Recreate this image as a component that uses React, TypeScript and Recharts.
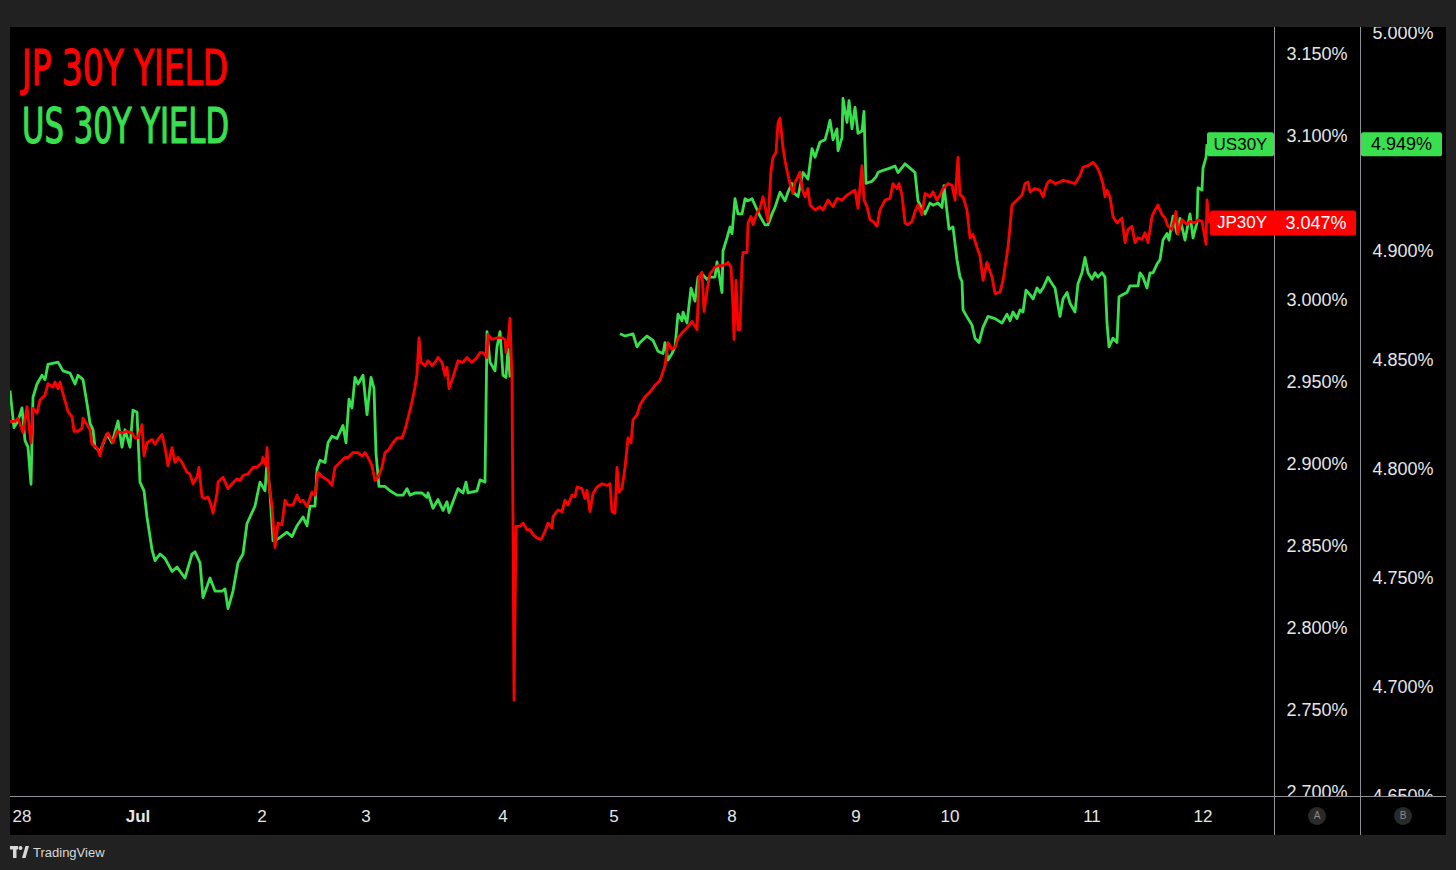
import React from 'react';
import { LineChart, Line, XAxis, YAxis, ReferenceLine } from 'recharts';

// ---- data (time in session units, yields in %) ----
const usTime = [
  0, 2, 4, 6, 7.5, 9, 10.5, 11.5, 13.5, 16, 17.5, 19, 24, 26.5, 30, 32.5, 34, 36.5, 38.5, 40,
  41.5, 42.5, 45, 48.5, 51, 52.5, 54, 56, 57.5, 60, 61.5, 63.5, 65, 67, 68.5, 71, 72.5, 75, 77.5, 81,
  83.5, 87.5, 91, 92.5, 95, 96.5, 100, 102.5, 106, 107.5, 109, 111.5, 114, 116.5, 118.5, 122.5, 125, 127.5, 128.5, 130,
  131.5, 134, 138.5, 141, 143.5, 146.5, 148.5, 150, 152.5, 153.5, 155, 157.5, 159, 161, 163.5, 165, 166.5, 168, 169.5, 171,
  172.5, 174, 176.5, 178.5, 180.5, 182, 183, 184.5, 187.5, 190, 193.5, 196.5, 198.5, 200, 202.5, 206, 208.5, 209, 211.5, 214,
  216.5, 218.5, 219.5, 221.5, 224, 226.5, 228, 229, 233.5, 235, 237.5, 238.5, 240, 242.5, 243.5, 245, 246.5, 248, 249, 250,
  275,
  305, 307.5, 311.5, 313.5, 315, 318.5, 321.5, 324, 326.5, 327.5, 329, 331, 332.5, 334, 336, 336.5, 338.5, 340.5, 342.5, 344,
  346.5, 348.5, 350, 352.5, 353.5, 356, 356.5, 358.5, 360, 361, 361.5, 362.5, 364, 366, 367.5, 369, 371, 372.5, 375, 377.5,
  379, 381, 382.5, 385, 387.5, 389, 391, 391.5, 394, 396.5, 399, 401, 402.5, 405, 407.5, 409, 410, 411.5, 413.5, 414,
  416, 416.5, 418.5, 419.5, 421, 422.5, 424, 426, 427, 428, 431, 433, 434, 436.5, 440, 442.5, 444, 447.5, 450, 452.5,
  454, 457.5, 460, 461.5, 464, 466, 467, 468.5, 469.5, 471.5, 473.5, 475, 476, 476.5, 479, 481, 482.5, 484.5, 486.5, 489,
  492.5, 496, 498.5, 500, 501.5, 503.5, 505, 506.5, 508, 510, 511.5, 513.5, 515, 516.5, 519, 521, 522.5, 524, 525, 526.5,
  528.5, 530, 532.5, 534, 536, 537.5, 539, 541, 542.5, 544, 546, 547.5, 548.5, 549.5, 551.5, 553.5, 554.5, 556.5, 558.5, 560,
  564, 565, 566.5, 568.5, 570, 571.5, 573.5, 575, 576.5, 578.5, 579.5, 581.5, 583.5, 585, 587.5, 590, 591.5, 593.5, 594, 596,
  596.5, 598, 598.5,
];
const usYield: (number | null)[] = [
  4.836, 4.819, 4.822, 4.828, 4.813, 4.810, 4.793, 4.833, 4.839, 4.843, 4.841, 4.848, 4.849, 4.845, 4.844, 4.839, 4.843, 4.841, 4.830, 4.821,
  4.818, 4.810, 4.808, 4.816, 4.812, 4.817, 4.822, 4.810, 4.818, 4.810, 4.827, 4.826, 4.794, 4.790, 4.778, 4.763, 4.758, 4.761, 4.759, 4.753,
  4.755, 4.750, 4.761, 4.762, 4.757, 4.741, 4.750, 4.744, 4.744, 4.745, 4.736, 4.744, 4.757, 4.761, 4.775, 4.783, 4.794, 4.790, 4.803, 4.789,
  4.767, 4.768, 4.771, 4.769, 4.774, 4.778, 4.774, 4.783, 4.783, 4.800, 4.804, 4.803, 4.812, 4.815, 4.814, 4.817, 4.820, 4.812, 4.832, 4.828,
  4.842, 4.839, 4.843, 4.825, 4.842, 4.837, 4.807, 4.792, 4.792, 4.790, 4.788, 4.788, 4.791, 4.788, 4.789, 4.789, 4.787, 4.789, 4.782, 4.786,
  4.781, 4.785, 4.780, 4.785, 4.791, 4.789, 4.794, 4.789, 4.790, 4.795, 4.794, 4.863, 4.849, 4.845, 4.856, 4.863, 4.843, 4.842, 4.855, 4.842,
  null,
  4.862, 4.861, 4.862, 4.856, 4.858, 4.861, 4.859, 4.854, 4.853, 4.858, 4.850, 4.853, 4.856, 4.871, 4.868, 4.872, 4.867, 4.883, 4.877, 4.888,
  4.889, 4.887, 4.888, 4.888, 4.895, 4.881, 4.900, 4.906, 4.911, 4.908, 4.913, 4.924, 4.917, 4.917, 4.924, 4.923, 4.924, 4.921, 4.916, 4.912,
  4.912, 4.917, 4.920, 4.927, 4.923, 4.927, 4.931, 4.927, 4.925, 4.936, 4.933, 4.947, 4.943, 4.950, 4.951, 4.956, 4.960, 4.951, 4.956, 4.946,
  4.952, 4.970, 4.959, 4.969, 4.956, 4.966, 4.954, 4.955, 4.964, 4.931, 4.932, 4.934, 4.936, 4.937, 4.938, 4.939, 4.936, 4.940, 4.938, 4.936,
  4.923, 4.917, 4.922, 4.921, 4.922, 4.920, 4.930, 4.918, 4.910, 4.911, 4.896, 4.888, 4.886, 4.873, 4.869, 4.866, 4.860, 4.858, 4.865, 4.870,
  4.869, 4.867, 4.871, 4.868, 4.872, 4.869, 4.873, 4.872, 4.882, 4.880, 4.878, 4.883, 4.881, 4.883, 4.888, 4.885, 4.883, 4.875, 4.870, 4.878,
  4.881, 4.876, 4.872, 4.885, 4.890, 4.897, 4.890, 4.887, 4.890, 4.888, 4.890, 4.888, 4.867, 4.856, 4.860, 4.858, 4.879, 4.880, 4.881, 4.884,
  4.884, 4.890, 4.888, 4.883, 4.890, 4.890, 4.894, 4.896, 4.905, 4.908, 4.905, 4.916, 4.908, 4.915, 4.905, 4.917, 4.906, 4.913, 4.929, 4.928,
  4.938, 4.943, 4.949,
];

const jpTime = [
  0, 2.5, 4, 6.5, 8.5, 10.5, 11.5, 13.5, 15, 17.5, 19, 21.5, 22.5, 24, 25, 26.5, 29, 31, 32, 34,
  36, 36.5, 38.5, 40, 41, 43.5, 45, 46.5, 49, 51.5, 53.5, 56, 58.5, 61, 62.5, 64, 66, 67, 68.5, 71,
  72.5, 74, 76, 77.5, 79, 81, 82.5, 84, 86, 88.5, 90, 91.5, 93.5, 94.5, 96, 97.5, 99, 100.5, 101.5, 103.5,
  104, 106.5, 109, 111, 113.5, 115, 116.5, 119, 121.5, 123.5, 126, 126.5, 128, 128.5, 129.5, 131, 132.5, 134, 136, 137.5,
  139, 141.5, 143.5, 145, 146.5, 148.5, 151, 152.5, 154, 156.5, 159, 161, 162.5, 165, 167.5, 169, 171.5, 174, 176, 177.5,
  179, 181, 182.5, 184, 186, 187.5, 189.5, 191.5, 193.5, 196, 197.5, 199, 201, 202.5, 203.5, 204.5, 205.5, 207.5, 209, 211,
  212.5, 214, 216, 217.5, 218.5, 219.5, 221.5, 224, 226.5, 228.5, 231, 233.5, 235, 236.5, 238.5, 239, 241, 243.5, 246, 247.5,
  248, 249, 250, 251, 251.5, 252, 253, 255, 256.5, 258.5, 260, 261.5, 263.5, 265.5, 267.5, 269, 271, 271.5, 274, 276,
  277.5, 279, 281, 282.5, 283.5, 286, 287.5, 288.5, 290, 291.5, 293.5, 296, 298.5, 300, 301, 302.5, 303.5, 304.5, 306, 307.5,
  309, 310.5, 311.5, 313.5, 315, 317.5, 320, 322.5, 325, 327.5, 329, 331, 332.5, 334, 336, 338.5, 341, 343.5, 344.5, 346,
  347, 348.5, 350, 352.5, 354, 356.5, 359, 360.5, 361.5, 362, 363, 364, 365, 366, 366.5, 368.5, 369, 370.5, 371.5, 373.5,
  375, 376.5, 377.5, 379, 380.5, 381.5, 383, 384, 385, 386.5, 387.5, 388.5, 390, 391.5, 392.5, 393.5, 395, 396, 397.5, 399,
  400, 402.5, 405, 406.5, 409, 411.5, 413.5, 416, 418.5, 421, 422.5, 424, 426, 427, 428.5, 430, 431.5, 433.5, 435, 437.5,
  440, 441.5, 443.5, 444.5, 446, 447.5, 449, 451, 452.5, 454, 456, 457.5, 460, 461.5, 463.5, 465, 466.5, 469, 471, 472.5,
  474, 475, 476.5, 478.5, 480, 481.5, 483.5, 485, 486.5, 488.5, 491, 492.5, 495, 496.5, 499, 501, 503.5, 506, 507.5, 509,
  510, 512.5, 515, 516.5, 518.5, 520, 522.5, 525, 526.5, 530, 532.5, 535, 536.5, 539, 541.5, 543.5, 545, 546.5, 547.5, 548.5,
  550, 551.5, 553.5, 556, 557.5, 559, 561, 562.5, 564, 566, 567.5, 569, 571, 572.5, 574, 576, 577.5, 579, 581, 583,
  584, 586, 588.5, 590, 592.5, 594, 596, 598, 598.5, 599.5,
];
const jpYield = [
  2.926, 2.926, 2.928, 2.919, 2.935, 2.913, 2.934, 2.931, 2.939, 2.942, 2.949, 2.947, 2.950, 2.946, 2.950, 2.943, 2.932, 2.929, 2.920, 2.920,
  2.922, 2.928, 2.924, 2.921, 2.912, 2.910, 2.905, 2.913, 2.919, 2.913, 2.920, 2.919, 2.920, 2.919, 2.916, 2.916, 2.924, 2.905, 2.913, 2.915,
  2.912, 2.915, 2.918, 2.910, 2.899, 2.910, 2.901, 2.904, 2.901, 2.895, 2.894, 2.888, 2.892, 2.898, 2.880, 2.879, 2.880, 2.875, 2.870, 2.882,
  2.889, 2.892, 2.885, 2.888, 2.891, 2.890, 2.893, 2.894, 2.898, 2.898, 2.901, 2.904, 2.899, 2.910, 2.888, 2.874, 2.849, 2.864, 2.863, 2.878,
  2.875, 2.875, 2.881, 2.877, 2.878, 2.874, 2.883, 2.881, 2.895, 2.892, 2.890, 2.887, 2.898, 2.901, 2.904, 2.904, 2.907, 2.907, 2.905, 2.907,
  2.904, 2.899, 2.890, 2.892, 2.898, 2.907, 2.909, 2.913, 2.916, 2.916, 2.921, 2.928, 2.938, 2.947, 2.955, 2.977, 2.962, 2.960, 2.963, 2.960,
  2.962, 2.965, 2.962, 2.954, 2.959, 2.946, 2.953, 2.963, 2.962, 2.965, 2.962, 2.965, 2.968, 2.968, 2.965, 2.979, 2.976, 2.977, 2.977, 2.976,
  2.968, 2.974, 2.989, 2.951, 2.862, 2.756, 2.862, 2.862, 2.864, 2.860, 2.860, 2.857, 2.855, 2.854, 2.859, 2.864, 2.861, 2.868, 2.872, 2.871,
  2.878, 2.875, 2.881, 2.880, 2.886, 2.885, 2.879, 2.884, 2.871, 2.882, 2.886, 2.888, 2.887, 2.888, 2.871, 2.870, 2.898, 2.883, 2.885, 2.898,
  2.916, 2.913, 2.927, 2.930, 2.936, 2.941, 2.944, 2.948, 2.951, 2.960, 2.974, 2.970, 2.971, 2.977, 2.980, 2.983, 2.987, 2.982, 3.014, 3.017,
  2.993, 3.006, 3.016, 3.020, 3.021, 3.021, 3.023, 3.020, 2.996, 2.976, 3.012, 2.982, 2.982, 3.023, 3.029, 3.029, 3.047, 3.051, 3.046, 3.053,
  3.056, 3.063, 3.057, 3.048, 3.079, 3.087, 3.090, 3.108, 3.111, 3.093, 3.085, 3.079, 3.071, 3.065, 3.072, 3.074, 3.078, 3.068, 3.063, 3.068,
  3.058, 3.055, 3.057, 3.055, 3.061, 3.057, 3.062, 3.061, 3.064, 3.066, 3.067, 3.056, 3.082, 3.061, 3.057, 3.049, 3.048, 3.045, 3.055, 3.061,
  3.062, 3.071, 3.068, 3.071, 3.064, 3.047, 3.046, 3.048, 3.054, 3.058, 3.052, 3.065, 3.063, 3.066, 3.061, 3.064, 3.068, 3.071, 3.070, 3.061,
  3.087, 3.064, 3.063, 3.055, 3.038, 3.040, 3.032, 3.027, 3.012, 3.023, 3.014, 3.004, 3.005, 3.012, 3.032, 3.058, 3.061, 3.064, 3.071, 3.072,
  3.066, 3.068, 3.067, 3.063, 3.071, 3.073, 3.071, 3.072, 3.073, 3.072, 3.071, 3.076, 3.081, 3.082, 3.084, 3.081, 3.077, 3.071, 3.063, 3.067,
  3.063, 3.051, 3.047, 3.050, 3.035, 3.043, 3.045, 3.035, 3.038, 3.037, 3.041, 3.035, 3.051, 3.055, 3.058, 3.052, 3.050, 3.045, 3.043, 3.054,
  3.040, 3.049, 3.046, 3.048, 3.047, 3.049, 3.048, 3.034, 3.061, 3.047,
];

const dayTickPos = [6, 64, 126, 178, 246.5, 302, 361, 423, 470, 541, 596.5];
const dayTickLabels = ['28', 'Jul', '2', '3', '4', '5', '8', '9', '10', '11', '12'];
const jpAxisTicks = [2.7, 2.75, 2.8, 2.85, 2.9, 2.95, 3.0, 3.1, 3.15];
const usAxisTicks = [4.65, 4.7, 4.75, 4.8, 4.85, 4.9, 5.0];
const jpLast = 3.047;
const usLast = 4.949;
const titleJP = 'JP 30Y YIELD';
const titleUS = 'US 30Y YIELD';

const usData = usTime.map((t, i) => ({ t, v: usYield[i] }));
const jpData = jpTime.map((t, i) => ({ t, v: jpYield[i] }));

const RED = '#ff0000';
const GREEN = '#39e04e';
const TXT = '#e6e6e6';
const FONT = '"Liberation Sans", Arial, sans-serif';
const TITLE_FONT = '"DejaVu Sans Condensed", "Liberation Sans Narrow", sans-serif';
const LINE_COL = '#8f9196';

const YTick = (props: any) => {
  const { x, y, payload, index, cid } = props;
  const id = `${cid}-${index}`;
  return (
    <g>
      <defs>
        <clipPath id={id}>
          <rect x={x} y={0} width={86} height={769} />
        </clipPath>
      </defs>
      <text
        x={x + 43}
        y={y}
        textAnchor="middle"
        dominantBaseline="central"
        fill={TXT}
        fontSize={18}
        fontFamily={FONT}
        clipPath={`url(#${id})`}
      >
        {Number(payload.value).toFixed(3)}%
      </text>
    </g>
  );
};

const XTick = (props: any) => {
  const { x, y, payload } = props;
  const i = dayTickPos.indexOf(payload.value);
  const label = dayTickLabels[i] ?? '';
  return (
    <text
      x={x}
      y={y + 20}
      textAnchor="middle"
      dominantBaseline="central"
      fill={TXT}
      fontSize={17}
      fontFamily={FONT}
      fontWeight={label === 'Jul' ? 700 : 400}
    >
      {label}
    </text>
  );
};

const USTag = (props: any) => {
  const vb = props.viewBox || {};
  const right = vb.x + vb.width;
  const cy = vb.y;
  return (
    <g>
      <rect x={right - 67} y={cy - 12} width={67} height={24} rx={2} fill={GREEN} />
      <text x={right - 33.5} y={cy} textAnchor="middle" dominantBaseline="central" fill="#000" fontSize={17} fontFamily={FONT}>
        US30Y
      </text>
      <rect x={right + 87} y={cy - 12} width={81} height={24} rx={2} fill={GREEN} />
      <text x={right + 127.5} y={cy} textAnchor="middle" dominantBaseline="central" fill="#000" fontSize={18} fontFamily={FONT}>
        {usLast.toFixed(3)}%
      </text>
    </g>
  );
};

const JPTag = (props: any) => {
  const vb = props.viewBox || {};
  const right = vb.x + vb.width;
  const cy = vb.y;
  return (
    <g>
      <rect x={right - 64} y={cy - 12.5} width={146} height={25} rx={2} fill={RED} />
      <text x={right - 32} y={cy} textAnchor="middle" dominantBaseline="central" fill="#fff" fontSize={17} fontFamily={FONT}>
        JP30Y
      </text>
      <text x={right + 42} y={cy} textAnchor="middle" dominantBaseline="central" fill="#fff" fontSize={18} fontFamily={FONT}>
        {jpLast.toFixed(3)}%
      </text>
    </g>
  );
};

export default function App() {
  return (
    <div style={{ position: 'fixed', left: 0, top: 0, width: 1456, height: 870, background: '#212121', overflow: 'hidden' }}>
      <div style={{ position: 'absolute', left: 10, top: 27, width: 1436, height: 808, background: '#000' }}>
        {/* frame separators */}
        <div style={{ position: 'absolute', left: 1264, top: 0, width: 1, height: 808, background: LINE_COL }} />
        <div style={{ position: 'absolute', left: 1350, top: 0, width: 1, height: 808, background: LINE_COL }} />
        <div style={{ position: 'absolute', left: 0, top: 769, width: 1436, height: 1, background: LINE_COL }} />
        {/* A / B badges */}
        <div style={{ position: 'absolute', left: 1298, top: 780, width: 18, height: 18, borderRadius: 9, background: '#2a2a2a', color: '#8a8a8a', fontSize: 10, fontFamily: FONT, textAlign: 'center', lineHeight: '18px' }}>A</div>
        <div style={{ position: 'absolute', left: 1384, top: 780, width: 18, height: 18, borderRadius: 9, background: '#2a2a2a', color: '#8a8a8a', fontSize: 10, fontFamily: FONT, textAlign: 'center', lineHeight: '18px' }}>B</div>
        <div style={{ position: 'absolute', left: 0, top: 0 }}>
          <LineChart width={1436} height={808} margin={{ top: 0, right: 0, bottom: 0, left: 0 }}>
            <XAxis
              dataKey="t"
              type="number"
              domain={[0, 632]}
              allowDataOverflow
              ticks={dayTickPos}
              interval={0}
              tick={<XTick />}
              tickLine={false}
              axisLine={false}
              tickSize={0}
              tickMargin={0}
              height={39}
            />
            <YAxis
              yAxisId="A"
              orientation="right"
              type="number"
              domain={[2.6976, 3.1665]}
              allowDataOverflow
              ticks={jpAxisTicks}
              interval={0}
              tick={(p: any) => <YTick {...p} cid="ya" />}
              tickLine={false}
              axisLine={false}
              tickSize={0}
              tickMargin={0}
              width={86}
            />
            <YAxis
              yAxisId="B"
              orientation="right"
              type="number"
              domain={[4.65, 5.00275]}
              allowDataOverflow
              ticks={usAxisTicks}
              interval={0}
              tick={(p: any) => <YTick {...p} cid="yb" />}
              tickLine={false}
              axisLine={false}
              tickSize={0}
              tickMargin={0}
              width={86}
            />
            <Line
              data={usData}
              dataKey="v"
              yAxisId="B"
              type="linear"
              stroke={GREEN}
              strokeWidth={2.8}
              strokeLinejoin="round"
              dot={false}
              activeDot={false}
              isAnimationActive={false}
              connectNulls={false}
            />
            <Line
              data={jpData}
              dataKey="v"
              yAxisId="A"
              type="linear"
              stroke={RED}
              strokeWidth={2.8}
              strokeLinejoin="round"
              dot={false}
              activeDot={false}
              isAnimationActive={false}
            />
            <ReferenceLine yAxisId="B" y={usLast} stroke="none" label={(p: any) => <USTag {...p} />} />
            <ReferenceLine yAxisId="A" y={jpLast} stroke="none" label={(p: any) => <JPTag {...p} />} />
          </LineChart>
        </div>
      </div>
      {/* titles */}
      <svg width={1456} height={870} style={{ position: 'absolute', left: 0, top: 0, pointerEvents: 'none' }}>
        <text x={22} y={85} fill={RED} stroke={RED} strokeWidth={1.2} fontSize={50} fontFamily={TITLE_FONT} textLength={206} lengthAdjust="spacingAndGlyphs">
          {titleJP}
        </text>
        <text x={22} y={143} fill={GREEN} stroke={GREEN} strokeWidth={1.2} fontSize={50} fontFamily={TITLE_FONT} textLength={207} lengthAdjust="spacingAndGlyphs">
          {titleUS}
        </text>
        {/* TradingView logo */}
        <g fill="#d8d8d8">
          <rect x={10} y={846} width={8} height={3.5} />
          <rect x={13} y={846} width={3.5} height={12} />
          <circle cx={20.5} cy={848} r={2} />
          <polygon points="22,858 25.5,858 29,846 25.5,846" />
        </g>
        <text x={33} y={852} dominantBaseline="central" fill="#d8d8d8" fontSize={13} fontFamily={FONT}>
          TradingView
        </text>
      </svg>
    </div>
  );
}
